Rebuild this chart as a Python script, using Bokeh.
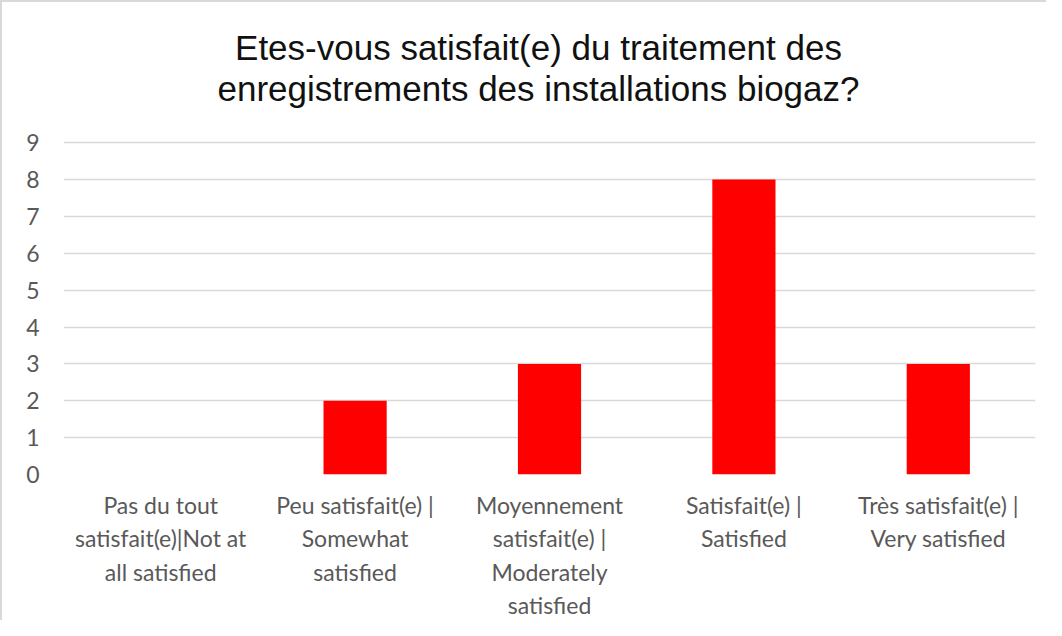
from bokeh.plotting import figure
from bokeh.models import FactorRange, Range1d, Label, FixedTicker
from bokeh.embed import file_html
from bokeh.resources import INLINE

categories = [
    "Pas du tout\nsatisfait(e)|Not at\nall satisfied",
    "Peu satisfait(e) |\nSomewhat\nsatisfied",
    "Moyennement\nsatisfait(e) |\nModerately\nsatisfied",
    "Satisfait(e) |\nSatisfied",
    "Très satisfait(e) |\nVery satisfied",
]
values = [0, 2, 3, 8, 3]
y_ticks = [0, 1, 2, 3, 4, 5, 6, 7, 8, 9]
title_lines = [
    "Etes-vous satisfait(e) du traitement des",
    "enregistrements des installations biogaz?",
]

# y range reaches above the last tick so the title has room inside the frame
p = figure(
    width=1046, height=620,
    x_range=FactorRange(*categories),
    y_range=Range1d(0, 12.8),
    output_backend="svg", toolbar_location=None,
    min_border_left=61, min_border_right=13,
    min_border_bottom=60, min_border_top=0,
)
p.title.visible = False

# title lines, positioned in screen units relative to the plot frame
for line, sy in zip(title_lines, [427, 386]):
    p.add_layout(Label(x=475, y=sy, x_units="screen", y_units="screen", text=line,
                       text_align="center", text_baseline="middle",
                       text_font="Liberation Sans", text_font_size="35px",
                       text_color="#111111"))

p.vbar(x=categories, top=values, width=0.325, fill_color="#FF0000", line_color=None)

p.outline_line_color = None
p.xgrid.visible = False
p.ygrid.ticker = FixedTicker(ticks=y_ticks)
p.ygrid.grid_line_color = "#d9d9d9"
p.ygrid.grid_line_width = 1.5

p.yaxis.ticker = FixedTicker(ticks=y_ticks)
for ax in (p.xaxis[0], p.yaxis[0]):
    ax.axis_line_color = None
    ax.major_tick_line_color = None
    ax.minor_tick_line_color = None
    ax.major_label_text_font = "Lato"
    ax.major_label_text_color = "#595959"
    ax.major_label_text_font_size = "23px"
p.yaxis.major_label_standoff = 18
p.xaxis.major_label_standoff = 10
p.styles = {"border-left": "2px solid #d9d9d9", "border-top": "2px solid #d9d9d9"}

open("out.html", "w").write(file_html(p, INLINE))
